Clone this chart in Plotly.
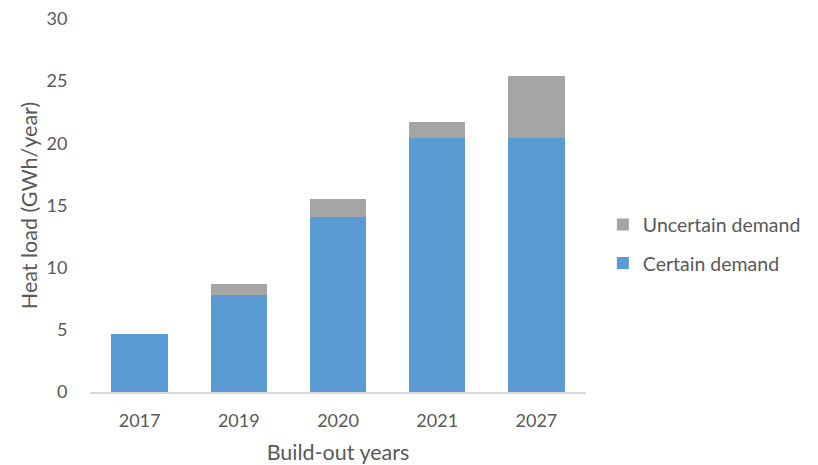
import plotly.graph_objects as go

years = ["2017", "2019", "2020", "2021", "2027"]
certain_demand = [4.65, 7.8, 14.1, 20.4, 20.4]
uncertain_demand = [0, 0.9, 1.45, 1.35, 5.0]

font_family = "Lato, 'Open Sans', sans-serif"
text_grey = "#595959"

fig = go.Figure()
fig.add_trace(go.Bar(
    x=years, y=certain_demand, name="Certain demand",
    marker=dict(color="#5B9BD5", line=dict(width=0)),
    legendgroup="certain", legendrank=2,
))
fig.add_trace(go.Bar(
    x=years, y=uncertain_demand, name="Uncertain demand",
    marker=dict(color="#A5A5A5", line=dict(width=0)),
    legendgroup="uncertain", legendrank=1,
))

fig.update_layout(
    width=818, height=465,
    barmode="stack", bargap=0.43,
    plot_bgcolor="white", paper_bgcolor="white",
    margin=dict(l=90, r=230, t=19, b=73),
    font=dict(family=font_family, color=text_grey, size=18),
    legend=dict(
        x=1.034, y=0.397, xanchor="left", yanchor="middle",
        traceorder="grouped", tracegroupgap=10,
        font=dict(size=19.5, color=text_grey),
        itemwidth=30,
    ),
    xaxis=dict(
        automargin=False,
        showline=True, linecolor="#D9D9D9", linewidth=1.5,
        ticks="outside", ticklen=12, tickcolor="rgba(0,0,0,0)", showgrid=False,
        tickfont=dict(size=18, color=text_grey),
        title=dict(text="Build-out years", font=dict(size=21.5, color=text_grey), standoff=18),
    ),
    yaxis=dict(
        automargin=False,
        range=[0, 30], dtick=5, showgrid=False, zeroline=False,
        showline=False, ticks="outside", ticklen=18, tickcolor="rgba(0,0,0,0)",
        tickfont=dict(size=18, color=text_grey),
        title=dict(text="Heat load (GWh/year)", font=dict(size=21.5, color=text_grey), standoff=2),
    ),
)

fig.write_html("out.html")
